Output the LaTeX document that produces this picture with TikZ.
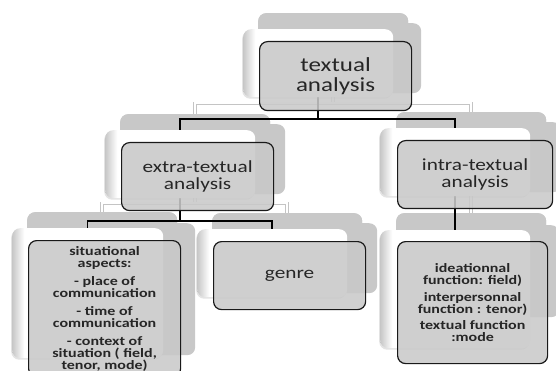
\documentclass[tikz,border=0pt]{standalone}
\usepackage{fontspec}
\setmainfont{Carlito}
\newfontfamily\sfont[FakeStretch=1.25]{Carlito}
\usetikzlibrary{shadows,calc}
\definecolor{backgray}{RGB}{200,200,200}
\definecolor{frontgray}{RGB}{201,201,201}
\definecolor{txt}{RGB}{38,38,38}
\definecolor{lightline}{RGB}{196,196,196}
\pgfdeclarehorizontalshading{wshade}{100bp}{color(0bp)=(black!22); color(25bp)=(black!22); color(29bp)=(white); color(100bp)=(white)}
\begin{document}
\begin{tikzpicture}[x=1pt,y=-1pt,
  sz/.style 2 args={minimum width=#1, minimum height=#2},
  backbox/.style={fill=backgray, rounded corners=8pt, anchor=north west, inner sep=0pt},
  whitebox/.style={shade, shading=wshade, rounded corners=8pt, anchor=north west, inner sep=0pt,
    drop shadow={shadow xshift=-1pt, shadow yshift=-1.5pt, opacity=0.22}},
  frontbox/.style={draw=black!90, line width=1.2pt, fill=frontgray, fill opacity=0.88, text opacity=1,
    rounded corners=8pt, anchor=north west, inner sep=0pt, align=center, text=txt},
  topfont/.style={font=\sfont\fontsize{20}{20}\selectfont},
  midfont/.style={font=\sfont\fontsize{17}{17}\selectfont},
  smallfont/.style={font=\sfont\bfseries\fontsize{12.8}{12}\selectfont},
  lconn/.style={draw=lightline, line width=0.9pt, double=white, double distance=1.8pt},
  bconn/.style={draw=black, line width=1.8pt}]
\useasboundingbox (0,0) rectangle (556,371);
\clip (0,0) rectangle (556,371);

% back layers A
\node[backbox, sz={150pt}{68pt}] (a1) at (258,13) {};
\node[backbox, sz={150pt}{68pt}] (a2) at (120,114) {};
\node[backbox, sz={150pt}{68pt}] (a3) at (396,112) {};
\node[backbox, sz={150pt}{120pt}] (a4) at (27,212) {};
\node[backbox, sz={150pt}{68pt}] (a5) at (212,213) {};
\node[backbox, sz={150pt}{100pt}] (a6) at (396,213) {};

% light connectors
\draw[lconn] (a1.south) -- ($(a1.south)+(0,22)$);
\draw[lconn] (a2.north) |- ($(a1.south)+(0,22)$) -| (a3.north);
\draw[lconn] (a2.south) -- ($(a2.south)+(0,21)$);
\draw[lconn] (a4.north) |- ($(a2.south)+(0,21)$) -| (a5.north);
\draw[lconn] (a3.south) -- (a6.north);

% back layers A again over connector ends, then B
\node[backbox, sz={150pt}{68pt}] at (258,13) {};
\node[backbox, sz={150pt}{68pt}] at (120,114) {};
\node[backbox, sz={150pt}{68pt}] at (396,112) {};
\node[backbox, sz={150pt}{120pt}] at (27,212) {};
\node[backbox, sz={150pt}{68pt}] at (212,213) {};
\node[backbox, sz={150pt}{100pt}] at (396,213) {};

\node[backbox, sz={150pt}{70pt}] (b1) at (271,23) {};
\node[backbox, sz={152pt}{70pt}] (b2) at (133,124) {};
\node[backbox, sz={152pt}{70pt}] (b3) at (409,122) {};
\node[backbox, sz={155pt}{132pt}] (b4) at (40,223) {};
\node[backbox, sz={152pt}{70pt}] (b5) at (225,223) {};
\node[backbox, sz={150pt}{92pt}] (b6) at (409,225) {};

% black connector end points (centres of the white layers)
\coordinate (w1s) at (318,97);
\coordinate (w2n) at (180,130);
\coordinate (w3n) at (455,128);
\coordinate (w2s) at (180,198);
\coordinate (w4n) at (87.5,228);
\coordinate (w5n) at (272,229);
\coordinate (w3s) at (455,196);
\coordinate (w6n) at (455,230);
\draw[bconn] (w1s) -- ($(w1s)+(0,22)$);
\draw[bconn] (w2n) |- ($(w1s)+(0,22)$) -| (w3n);
\draw[bconn] (w2s) -- ($(w2s)+(0,23)$);
\draw[bconn] (w4n) |- ($(w2s)+(0,23)$) -| (w5n);
\draw[bconn] (w3s) -- (w6n);

% white layers
\node[whitebox, sz={150pt}{68pt}] (w1) at (243,29) {};
\node[whitebox, sz={150pt}{68pt}] (w2) at (105,130) {};
\node[whitebox, sz={150pt}{68pt}] (w3) at (380,128) {};
\node[whitebox, sz={151pt}{130pt}] (w4) at (12,228) {};
\node[whitebox, sz={150pt}{68pt}] (w5) at (197,229) {};
\node[whitebox, sz={150pt}{118pt}] (w6) at (380,230) {};

% front boxes
\node[frontbox, topfont, sz={152pt}{69pt}] (f1) at (259,41) {textual\\analysis};
\node[frontbox, midfont, sz={152pt}{68pt}] (f2) at (121,142) {extra-textual\\analysis};
\node[frontbox, midfont, sz={155pt}{68pt}] (f3) at (397,140) {intra-textual\\analysis};
\node[frontbox, smallfont, sz={152pt}{136pt}] (f4) at (28,240) {situational\\aspects:\\[6pt]- place of\\communication\\[6pt]- time of\\communication\\[6pt]- context of\\situation ( field,\\tenor, mode)};
\node[frontbox, midfont, sz={152pt}{68pt}] (f5) at (213,241) {genre};
\node[frontbox, smallfont, sz={150pt}{122pt}] (f6) at (397,241) {ideationnal\\function: field)\\[4.5pt]interpersonnal\\function : tenor)\\[4pt]textual function\\:mode};
\end{tikzpicture}
\end{document}
